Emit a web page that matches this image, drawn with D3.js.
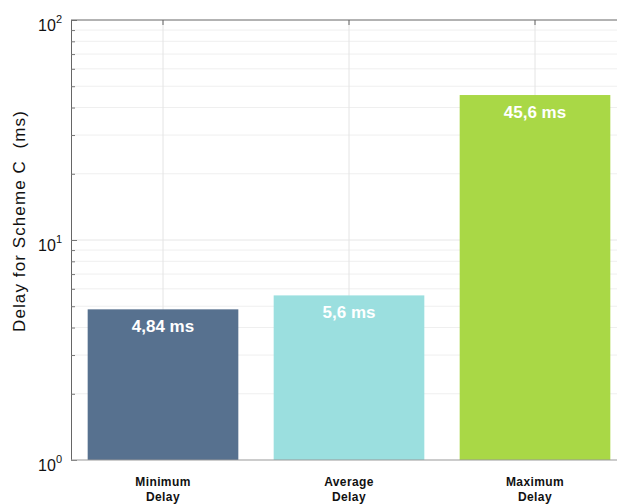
<!DOCTYPE html>
<html>
<head>
<meta charset="utf-8">
<script src="https://cdn.jsdelivr.net/npm/d3@7/dist/d3.min.js"></script>
<style>
  html, body { margin: 0; padding: 0; background: #fff; }
  svg { display: block; }
</style>
</head>
<body>
<svg id="chart" width="617" height="504"></svg>
<script>
// Delay statistics for Scheme C
const categories = [["Minimum", "Delay"], ["Average", "Delay"], ["Maximum", "Delay"]];
const delays = [4.84, 5.6, 45.6];
const valueLabels = ["4,84 ms", "5,6 ms", "45,6 ms"];
const barColors = ["#57718f", "#9bdfdf", "#a9d846"];
const yTickExponents = [0, 1, 2];

const svg = d3.select("#chart");
const plotTop = 20, plotBottom = 460, plotLeft = 71, plotRight = 628;

const y = d3.scaleLog().domain([1, 100]).range([plotBottom, plotTop]);
const x = d3.scaleBand()
  .domain(categories.map((c, i) => i))
  .range([70, plotRight])
  .paddingInner(0.19)
  .paddingOuter(0.095);

// minor log gridlines
const minorVals = [];
for (let d = 1; d < 100; d *= 10) for (let k = 2; k <= 9; k++) minorVals.push(d * k);

svg.append("g").selectAll("line").data(minorVals).join("line")
  .attr("x1", plotLeft).attr("x2", plotRight)
  .attr("y1", d => y(d)).attr("y2", d => y(d))
  .attr("stroke", "#efefef").attr("stroke-width", 1);

svg.append("line")
  .attr("x1", plotLeft).attr("x2", plotRight)
  .attr("y1", y(10)).attr("y2", y(10))
  .attr("stroke", "#e6e6e6").attr("stroke-width", 1);

// vertical gridlines at category centres
svg.append("g").selectAll("line").data(x.domain()).join("line")
  .attr("x1", d => x(d) + x.bandwidth() / 2).attr("x2", d => x(d) + x.bandwidth() / 2)
  .attr("y1", plotTop).attr("y2", plotBottom)
  .attr("stroke", "#e4e4e4").attr("stroke-width", 1);

// bars
svg.append("g").selectAll("rect").data(delays).join("rect")
  .attr("x", (d, i) => x(i))
  .attr("width", x.bandwidth())
  .attr("y", d => y(d))
  .attr("height", d => plotBottom - y(d))
  .attr("fill", (d, i) => barColors[i]);

// value labels inside bars
svg.append("g").selectAll("text").data(delays).join("text")
  .attr("x", (d, i) => x(i) + x.bandwidth() / 2)
  .attr("y", d => y(d) + 22.5)
  .attr("text-anchor", "middle")
  .attr("fill", "#fff")
  .attr("font-family", "Liberation Sans, Arial, sans-serif")
  .attr("font-weight", "bold")
  .attr("font-size", 17)
  .text((d, i) => valueLabels[i]);

// left axis with inward log ticks
const leftAxis = d3.axisLeft(y)
  .tickValues(minorVals.concat([1, 10, 100]))
  .tickSize(-4)
  .tickFormat("");
const gl = svg.append("g").attr("transform", `translate(${plotLeft},0)`).call(leftAxis);
gl.select(".domain").attr("stroke", "#666");
gl.selectAll(".tick line").attr("stroke", "#777")
  .attr("x2", d => (Math.abs(Math.log10(d) % 1) < 1e-9 ? 6 : 4));

// top axis with ticks at category centres
const topAxis = d3.axisTop(x).tickSize(-5).tickFormat("");
const gt = svg.append("g").attr("transform", `translate(0,${plotTop})`).call(topAxis);
gt.select(".domain").attr("d", `M${plotLeft},0H${plotRight}`).attr("stroke", "#666");
gt.selectAll(".tick line").attr("stroke", "#666");

// bottom axis
const bottomAxis = d3.axisBottom(x).tickSize(0).tickFormat("");
const gb = svg.append("g").attr("transform", `translate(0,${plotBottom})`).call(bottomAxis);
gb.select(".domain").attr("d", `M${plotLeft},0H${plotRight}`).attr("stroke", "#999");

// y tick labels as powers of ten
const yl = svg.append("g").selectAll("text").data(yTickExponents).join("text")
  .attr("x", 62)
  .attr("y", d => y(Math.pow(10, d)) + 10.5)
  .attr("text-anchor", "end")
  .attr("font-family", "Liberation Sans, Arial, sans-serif")
  .attr("font-size", 16)
  .attr("fill", "#111");
yl.append("tspan").text("10");
yl.append("tspan").attr("dy", -7.5).attr("font-size", 11).text(d => d);

// category labels
const cl = svg.append("g").selectAll("text").data(categories).join("text")
  .attr("x", (d, i) => x(i) + x.bandwidth() / 2)
  .attr("y", 486)
  .attr("text-anchor", "middle")
  .attr("font-family", "Liberation Sans, Arial, sans-serif")
  .attr("font-weight", "bold")
  .attr("font-size", 12)
  .attr("letter-spacing", 0.4)
  .attr("fill", "#111");
cl.selectAll("tspan").data(d => d).join("tspan")
  .attr("x", function () { return d3.select(this.parentNode).attr("x"); })
  .attr("dy", (d, i) => (i === 0 ? 0 : 14.5))
  .text(d => d);

// y axis title
svg.append("text")
  .attr("transform", `translate(25,221) rotate(-90)`)
  .attr("text-anchor", "middle")
  .attr("font-family", "Liberation Sans, Arial, sans-serif")
  .attr("font-size", 17)
  .attr("letter-spacing", 1.1)
  .attr("xml:space", "preserve")
  .style("white-space", "pre")
  .attr("fill", "#111")
  .text("Delay for Scheme C  (ms)");
</script>
</body>
</html>
